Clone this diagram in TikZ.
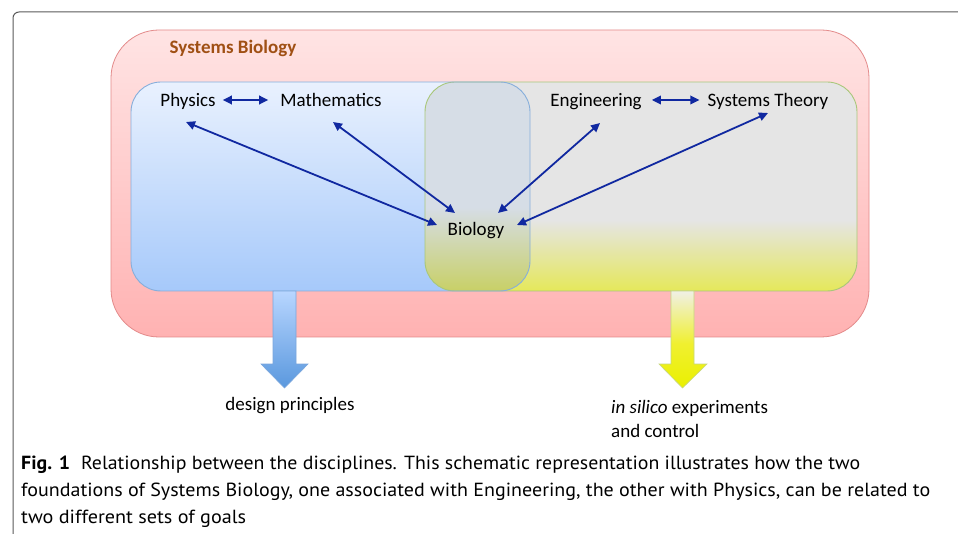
\documentclass[tikz,border=0pt]{standalone}
\usepackage{fontspec}
\usepackage{graphicx}
\setmainfont{Carlito}
\newfontfamily\capfont{PT Sans}
\usetikzlibrary{arrows.meta}
\definecolor{pinktop}{HTML}{FFE4E4}
\definecolor{pinkbot}{HTML}{FFB2B2}
\definecolor{pinkdraw}{HTML}{E38A8A}
\definecolor{bluetop}{HTML}{E9F1FE}
\definecolor{bluebot}{HTML}{A6C9FA}
\definecolor{bluedraw}{HTML}{86AEDB}
\definecolor{ygray}{HTML}{E5E5E5}
\definecolor{ybot}{HTML}{E5E85A}
\definecolor{ydraw}{HTML}{A9C77A}
\definecolor{otop}{HTML}{D6DDE6}
\definecolor{obot}{HTML}{C8D066}
\definecolor{arrblue}{RGB}{16,40,160}
\definecolor{sbbrown}{RGB}{160,80,20}
\definecolor{barrtop}{HTML}{B8D6FF}
\definecolor{barrbot}{HTML}{5A98DE}
\definecolor{barrdraw}{HTML}{7AA6DC}
\definecolor{yarrtop}{HTML}{F0F0E6}
\definecolor{yarrmid}{HTML}{F0F030}
\definecolor{yarrbot}{HTML}{EAF000}
\definecolor{yarrdraw}{HTML}{C6D680}
\definecolor{framegray}{HTML}{5A5A5A}
\pgfdeclareverticalshading{yboxshade}{100bp}{color(0bp)=(ybot); color(25bp)=(ybot); color(42bp)=(ygray); color(100bp)=(ygray)}
\pgfdeclareverticalshading{oboxshade}{100bp}{color(0bp)=(obot); color(25bp)=(obot); color(45bp)=(otop); color(100bp)=(otop)}
\pgfdeclareverticalshading{yarrshade}{100bp}{color(0bp)=(yarrbot); color(25bp)=(yarrbot); color(48bp)=(yarrmid); color(75bp)=(yarrtop); color(100bp)=(yarrtop)}
\tikzset{
  lbl/.style={font=\fontsize{19}{23}\selectfont, inner sep=3pt, text height=13pt, text depth=4pt},
  darr/.style={draw=arrblue, line width=1.8pt, {Triangle[length=9pt,width=8.5pt]}-{Triangle[length=9pt,width=8.5pt]}},
  capline/.style={anchor=base west, inner sep=0pt, font=\capfont\fontsize{19}{23}\selectfont}
}
\begin{document}
\begin{tikzpicture}[x=1pt,y=-1pt]
\useasboundingbox (0,0) rectangle (958,534);
\fill[white] (0,0) rectangle (958,534);
% frame
\draw[framegray, line width=1pt, rounded corners=6pt] (958,12) -- (13,12) -- (13,534);
% systems biology box
\shade[top color=pinktop, bottom color=pinkbot, draw=pinkdraw, line width=0.8pt, rounded corners=48pt] (111,30) rectangle (869,337);
\node[font=\bfseries\fontsize{19}{23}\selectfont, text=sbbrown, inner sep=0pt] (sb) at (233,48) {Systems Biology};
% blue box
\shade[top color=bluetop, bottom color=bluebot, rounded corners=30pt] (131,82) rectangle (530,291);
% yellow box
\shade[shading=yboxshade, rounded corners=30pt] (425,82) rectangle (857,291);
% overlap
\begin{scope}
\clip[rounded corners=30pt] (131,82) rectangle (530,291);
\shade[shading=oboxshade, rounded corners=30pt] (425,82) rectangle (857,291);
\end{scope}
\draw[ydraw, line width=0.9pt, rounded corners=30pt] (425,82) rectangle (857,291);
\draw[bluedraw, line width=0.9pt, rounded corners=30pt] (131,82) rectangle (530,291);
% big arrows
\shade[top color=barrtop, bottom color=barrbot, draw=barrdraw, line width=0.6pt]
  (273,291) -- (296,291) -- (296,364) -- (308,364) -- (284.5,388) -- (261,364) -- (273,364) -- cycle;
\shade[shading=yarrshade, draw=yarrdraw, line width=0.6pt]
  (671,291) -- (694,291) -- (694,364) -- (707,364) -- (682.5,388) -- (659,364) -- (671,364) -- cycle;
% nodes
\node[lbl] (phys) at (188,102) {Physics};
\node[lbl] (math) at (331,102) {Mathematics};
\node[lbl] (eng) at (596,102) {Engineering};
\node[lbl] (syst) at (768,102) {Systems Theory};
\node[lbl] (bio) at (476,231) {Biology};
% connectors
\draw[darr] ([shift={(4,-2)}]phys.east) -- ([shift={(-9,-2)}]math.west);
\draw[darr] ([shift={(7,-2)}]eng.east) -- ([shift={(-5,-2)}]syst.west);
\draw[darr] ([shift={(-2,20)}]phys.center) -- ([shift={(-39,-6)}]bio.center);
\draw[darr] ([shift={(2,20)}]math.center) -- ([shift={(-21,-18)}]bio.center);
\draw[darr] ([shift={(4,21)}]eng.center) -- ([shift={(22,-18)}]bio.center);
\draw[darr] ([shift={(0,11)}]syst.center) -- ([shift={(41,-6)}]bio.center);
% goal labels
\node[lbl] (dp) at (290,406) {design principles};
\node[lbl, anchor=west, align=left, inner sep=0pt, text height=, text depth=, font=\fontsize{19}{24}\selectfont] (isc) at (611,419) {\textit{in silico} experiments\\and control};
% caption
\node[capline] (cap1) at (21,469) {\resizebox{839pt}{\height}{\textbf{Fig. 1}\hspace{0.55em}Relationship between the disciplines. This schematic representation illustrates how the two}};
\node[capline] (cap2) at (21,496) {\resizebox{909pt}{\height}{foundations of Systems Biology, one associated with Engineering, the other with Physics, can be related to}};
\node[capline] (cap3) at (21,523) {\resizebox{225pt}{\height}{two different sets of goals}};
\end{tikzpicture}
\end{document}
